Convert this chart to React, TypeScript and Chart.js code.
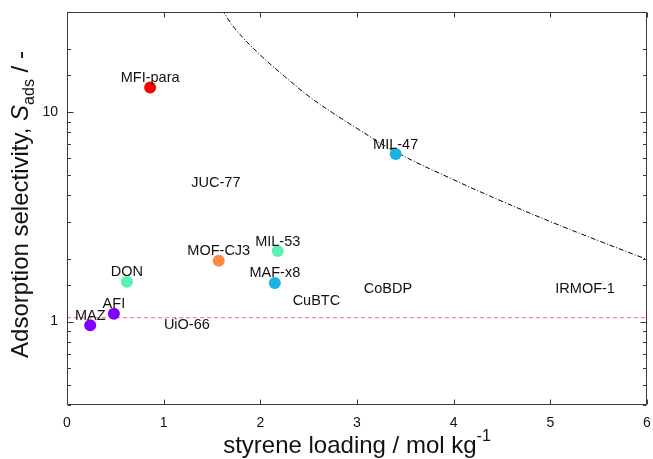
import React, { useEffect, useRef } from 'react';
import { Chart, registerables } from 'chart.js';

Chart.register(...registerables);

// Materials drawn with a marker
const pointNames = ['MFI-para', 'MIL-47', 'MOF-CJ3', 'MIL-53', 'MAF-x8', 'DON', 'AFI', 'MAZ'];
const pointLoadings = [0.86, 3.4, 1.57, 2.18, 2.15, 0.62, 0.485, 0.24];
const pointSelectivities = [13.1, 6.3, 1.95, 2.17, 1.53, 1.55, 1.09, 0.96];
const pointColors = ['#ff0000', '#1ab4e4', '#ff8a45', '#5cf0b4', '#1ab4e4', '#5cf0b4', '#8000ff', '#8000ff'];

// Materials shown by label only
const unmarkedNames = ['JUC-77', 'CoBDP', 'IRMOF-1', 'CuBTC', 'UiO-66'];
const unmarkedLoadings = [1.54, 3.32, 5.36, 2.58, 1.24];
const unmarkedSelectivities = [4.15, 1.29, 1.29, 1.13, 0.87];

// Dash-dot bound curve
const curveLoadings = [1.6, 1.75, 2.0, 2.25, 2.5, 2.75, 3.0, 3.4, 4.0, 4.5, 5.0, 5.5, 6.0];
const curveSelectivities = [30.8, 24.6, 18.7, 14.8, 11.9, 9.9, 8.35, 6.45, 4.75, 3.75, 3.0, 2.43, 1.98];

// Red dashed reference line
const referenceLoadings = [0, 6];
const referenceSelectivities = [1.045, 1.045];

const xTickValues = [0, 1, 2, 3, 4, 5, 6];
const yLabelValues = [1, 10];

const FONT = "'Liberation Sans', Arial, Helvetica, sans-serif";

type Run = { text: string; size: number; italic?: boolean; dy?: number };

function drawRuns(ctx: CanvasRenderingContext2D, runs: Run[], cx: number, baseline: number) {
  let total = 0;
  const widths = runs.map((r) => {
    ctx.font = `${r.italic ? 'italic ' : ''}${r.size}px ${FONT}`;
    const w = ctx.measureText(r.text).width;
    total += w;
    return w;
  });
  let x = cx - total / 2;
  ctx.textAlign = 'left';
  ctx.textBaseline = 'alphabetic';
  runs.forEach((r, i) => {
    ctx.font = `${r.italic ? 'italic ' : ''}${r.size}px ${FONT}`;
    ctx.fillText(r.text, x, baseline + (r.dy || 0));
    x += widths[i];
  });
}

const framePlugin = {
  id: 'frameTicksLabels',
  afterDatasetsDraw(chart: any) {
    const { ctx, chartArea } = chart;
    const { left, right, top, bottom } = chartArea;
    const xs = chart.scales.x;
    const ys = chart.scales.y;
    ctx.save();
    // point labels
    ctx.fillStyle = '#111';
    ctx.font = `14.5px ${FONT}`;
    ctx.textAlign = 'center';
    ctx.textBaseline = 'alphabetic';
    chart.data.datasets.forEach((ds: any, di: number) => {
      if (!ds.names) return;
      const meta = chart.getDatasetMeta(di);
      meta.data.forEach((el: any, i: number) => {
        ctx.fillText(ds.names[i], el.x, el.y - 5.5);
      });
    });
    // frame
    ctx.strokeStyle = '#3a3a3a';
    ctx.lineWidth = 1;
    ctx.setLineDash([]);
    const L = Math.round(left) + 0.5;
    const R = Math.round(right) - 0.5;
    const T = Math.round(top) + 0.5;
    const B = Math.round(bottom) - 0.5;
    ctx.beginPath();
    ctx.rect(L, T, R - L, B - T);
    ctx.stroke();
    // x ticks (inward, bottom and top)
    ctx.beginPath();
    xTickValues.forEach((v) => {
      const px = Math.round(xs.getPixelForValue(v)) + 0.5;
      ctx.moveTo(px, B);
      ctx.lineTo(px, B - 5);
      ctx.moveTo(px, T);
      ctx.lineTo(px, T + 5);
    });
    // y ticks (inward, left and right)
    ys.ticks.forEach((t: any) => {
      const py = Math.round(ys.getPixelForValue(t.value)) + 0.5;
      const len = t.major ? 6 : 3.5;
      ctx.moveTo(L, py);
      ctx.lineTo(L + len, py);
      ctx.moveTo(R, py);
      ctx.lineTo(R - len, py);
    });
    ctx.stroke();
    ctx.restore();
  },
  afterDraw(chart: any) {
    const { ctx, chartArea } = chart;
    ctx.save();
    ctx.fillStyle = '#111';
    // x title
    drawRuns(
      ctx,
      [
        { text: 'styrene loading / mol kg', size: 24 },
        { text: '-1', size: 16, dy: -12 },
      ],
      (chartArea.left + chartArea.right) / 2,
      453
    );
    // y title
    ctx.translate(28, (chartArea.top + chartArea.bottom) / 2 - 4);
    ctx.rotate(-Math.PI / 2);
    drawRuns(
      ctx,
      [
        { text: 'Adsorption selectivity, ', size: 24 },
        { text: 'S', size: 24, italic: true },
        { text: 'ads', size: 16, dy: 6 },
        { text: ' / -', size: 24 },
      ],
      0,
      0
    );
    ctx.restore();
  },
};

export default function App() {
  const canvasRef = useRef<HTMLCanvasElement | null>(null);

  useEffect(() => {
    if (!canvasRef.current) return;
    const chart = new Chart(canvasRef.current, {
      type: 'scatter',
      data: {
        datasets: [
          {
            label: 'reference',
            data: referenceLoadings.map((x, i) => ({ x, y: referenceSelectivities[i] })),
            showLine: true,
            borderColor: 'rgb(255, 135, 135)',
            backgroundColor: 'rgb(255, 135, 135)',
            borderWidth: 1.2,
            borderDash: [4, 3],
            pointRadius: 0,
            order: 3,
          } as any,
          {
            label: 'bound',
            data: curveLoadings.map((x, i) => ({ x, y: curveSelectivities[i] })),
            showLine: true,
            borderColor: '#000',
            backgroundColor: '#000',
            borderWidth: 1,
            borderDash: [5, 2, 1, 2],
            pointRadius: 0,
            tension: 0.4,
            order: 2,
          } as any,
          {
            label: 'materials',
            names: pointNames,
            data: pointLoadings.map((x, i) => ({ x, y: pointSelectivities[i] })),
            backgroundColor: pointColors,
            borderWidth: 0,
            pointRadius: 6,
            order: 0,
          } as any,
          {
            label: 'unmarked',
            names: unmarkedNames,
            data: unmarkedLoadings.map((x, i) => ({ x, y: unmarkedSelectivities[i] })),
            pointRadius: 0,
            backgroundColor: 'transparent',
            borderWidth: 0,
            order: 1,
          } as any,
        ],
      },
      options: {
        responsive: false,
        animation: false,
        devicePixelRatio: 1,
        layout: { padding: { top: 12, right: 6, left: 0, bottom: 0 } },
        plugins: { legend: { display: false }, tooltip: { enabled: false } },
        scales: {
          x: {
            type: 'linear',
            min: 0,
            max: 6,
            grid: { display: false, drawTicks: false },
            border: { display: false },
            afterBuildTicks: (scale: any) => {
              scale.ticks = xTickValues.map((v) => ({ value: v }));
            },
            ticks: {
              color: '#111',
              font: { size: 14, family: FONT },
              padding: 10,
              maxRotation: 0,
              autoSkip: false,
              callback: (v: any) => String(v),
            },
            afterFit: (scale: any) => {
              scale.height = 54;
              scale.paddingLeft = 0;
              scale.paddingRight = 0;
            },
          },
          y: {
            type: 'logarithmic',
            min: 0.4,
            max: 30,
            grid: { display: false, drawTicks: false },
            border: { display: false },
            ticks: {
              color: '#111',
              font: { size: 14, family: FONT },
              padding: 9,
              autoSkip: false,
              callback: (v: any) => (yLabelValues.includes(Number(v)) ? String(v) : ''),
            },
            afterFit: (scale: any) => {
              scale.width = 67;
              scale.paddingTop = 0;
              scale.paddingBottom = 0;
            },
          },
        },
      } as any,
      plugins: [framePlugin],
    });
    return () => chart.destroy();
  }, []);

  return (
    <div style={{ position: 'absolute', left: 0, top: 0, width: 653, height: 459, background: '#fff' }}>
      <canvas ref={canvasRef} width={653} height={459} style={{ width: 653, height: 459 }} />
    </div>
  );
}
